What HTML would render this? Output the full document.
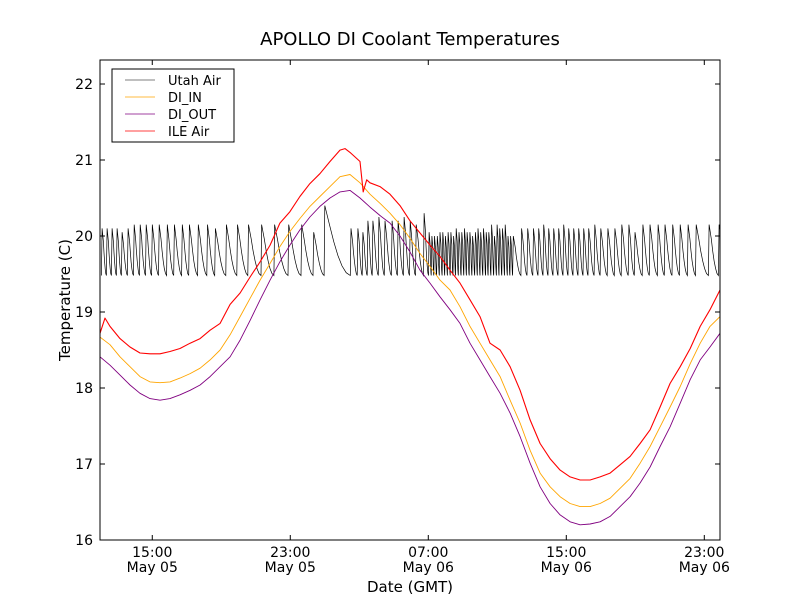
<!DOCTYPE html>
<html><head><meta charset="utf-8"><style>
body{margin:0;background:#fff;}
svg text{font-family:"DejaVu Sans","Liberation Sans",sans-serif;}
</style></head><body>
<svg id="chart" width="800" height="600" xmlns="http://www.w3.org/2000/svg">
<rect width="800" height="600" fill="#fff"/>
<text x="410" y="45" font-size="18" text-anchor="middle">APOLLO DI Coolant Temperatures</text>
<g id="series"></g>
<rect x="100" y="60" width="620" height="480" fill="none" stroke="#000" stroke-width="1"/>
<g id="axes"></g>
<text x="410" y="592" font-size="15" text-anchor="middle">Date (GMT)</text>
<text transform="translate(70,300) rotate(-90)" font-size="15" text-anchor="middle">Temperature (C)</text>
<g>
<rect x="112" y="69" width="122" height="73" fill="#fff" stroke="#000" stroke-width="1"/>
<g><line x1="125" y1="80" x2="155" y2="80" stroke="#000" stroke-width="0.6"/><text x="168" y="85" font-size="13">Utah Air</text></g>
<g><line x1="125" y1="97" x2="155" y2="97" stroke="orange" stroke-width="0.8"/><text x="168" y="102" font-size="13">DI_IN</text></g>
<g><line x1="125" y1="114" x2="155" y2="114" stroke="purple" stroke-width="0.8"/><text x="168" y="119" font-size="13">DI_OUT</text></g>
<g><line x1="125" y1="131" x2="155" y2="131" stroke="red" stroke-width="0.8"/><text x="168" y="136" font-size="13">ILE Air</text></g>
</g>
</svg>
<script>
// hours since May 05 00:00 GMT
const sampleHours=[11.97,12.55,13.13,13.71,14.29,14.87,15.45,16.03,16.61,17.19,17.77,18.35,18.93,19.51,20.09,20.67,21.25,21.83,22.40,22.98,23.56,24.14,24.72,25.30,25.88,26.46,27.04,27.62,28.20,28.78,29.36,29.94,30.52,31.10,31.68,32.26,32.84,33.42,34.00,34.58,35.16,35.74,36.32,36.90,37.48,38.06,38.64,39.22,39.80,40.38,40.96,41.54,42.12,42.70,43.28,43.86,44.44,45.02,45.60,46.18,46.76,47.33,47.91];
const diIn=[18.67,18.57,18.41,18.28,18.15,18.08,18.07,18.08,18.13,18.19,18.26,18.37,18.5,18.7,18.94,19.18,19.42,19.64,19.86,20.06,20.23,20.39,20.52,20.65,20.78,20.81,20.7,20.55,20.43,20.3,20.15,19.97,19.77,19.6,19.42,19.29,19.07,18.81,18.59,18.37,18.15,17.84,17.54,17.18,16.88,16.7,16.57,16.48,16.44,16.44,16.48,16.55,16.68,16.81,17.01,17.23,17.49,17.75,18.02,18.32,18.59,18.81,18.94];
const diOut=[18.41,18.3,18.17,18.04,17.93,17.86,17.84,17.86,17.91,17.97,18.04,18.15,18.28,18.41,18.63,18.89,19.16,19.42,19.66,19.88,20.08,20.25,20.39,20.5,20.58,20.6,20.5,20.38,20.27,20.17,20.0,19.79,19.55,19.38,19.2,19.03,18.85,18.59,18.37,18.15,17.93,17.67,17.36,17.01,16.7,16.48,16.33,16.24,16.2,16.21,16.24,16.31,16.44,16.57,16.75,16.96,17.23,17.49,17.8,18.11,18.37,18.54,18.72];
const ileHours=[11.97,12.26,12.55,13.13,13.71,14.29,14.87,15.45,16.03,16.61,17.19,17.77,18.35,18.93,19.51,20.09,20.67,21.25,21.83,22.40,22.98,23.56,24.14,24.72,25.30,25.88,26.17,26.46,27.04,27.23,27.43,27.62,28.20,28.78,29.36,29.94,30.52,31.10,31.68,32.26,32.84,33.42,34.00,34.58,35.16,35.74,36.32,36.90,37.48,38.06,38.64,39.22,39.80,40.38,40.96,41.54,42.12,42.70,43.28,43.86,44.44,45.02,45.60,46.18,46.76,47.33,47.91];
const ileAir=[18.72,18.92,18.81,18.65,18.54,18.46,18.45,18.45,18.48,18.52,18.59,18.65,18.76,18.85,19.1,19.25,19.46,19.66,19.88,20.17,20.32,20.52,20.69,20.82,20.98,21.13,21.15,21.1,20.98,20.58,20.74,20.7,20.65,20.55,20.4,20.2,20.04,19.88,19.73,19.55,19.38,19.16,18.94,18.59,18.5,18.28,17.97,17.58,17.27,17.07,16.92,16.83,16.79,16.79,16.83,16.88,16.99,17.1,17.27,17.45,17.75,18.06,18.28,18.52,18.81,19.03,19.29];
const utahPeakHours=[12.09,12.38,12.67,12.96,13.25,13.60,13.95,14.30,14.65,15.00,15.40,15.87,16.28,16.74,17.15,17.67,18.20,18.66,19.30,19.94,20.58,21.34,22.09,22.91,23.66,24.36,25.00,26.52,26.92,27.21,27.50,27.79,28.14,28.49,28.90,29.25,29.60,29.95,30.30,30.76,31.05,31.21,31.36,31.52,31.68,31.84,31.99,32.15,32.31,32.47,32.62,32.78,32.94,33.10,33.25,33.41,33.57,33.73,33.88,34.04,34.20,34.36,34.51,34.67,34.83,34.99,35.14,35.30,35.46,35.62,35.77,35.93,36.41,36.76,37.10,37.40,37.69,37.98,38.27,38.56,38.85,39.14,39.43,39.72,40.01,40.30,40.65,41.00,41.41,41.82,42.22,42.63,42.98,43.44,43.85,44.32,44.72,45.17,45.60,46.06,46.53,47.28,47.86];
const utahPeakVals=[20.1,20.1,20.1,20.1,20.05,20.1,20.15,20.15,20.15,20.15,20.15,20.15,20.15,20.15,20.15,20.15,20.15,20.1,20.15,20.15,20.15,20.15,20.15,20.15,20.15,20.05,20.4,20.1,20.1,20.05,20.2,20.2,20.25,20.2,20.2,20.2,20.25,20.2,20.15,20.3,20.05,20.0,20.0,20.0,20.05,20.05,20.0,20.05,20.05,20.0,20.1,20.05,20.05,20.1,20.05,20.05,20.0,20.05,20.1,20.05,20.1,20.05,20.05,20.15,20.0,20.15,20.1,20.1,20.15,20.0,20.0,20.0,20.1,20.1,20.1,20.1,20.15,20.1,20.1,20.1,20.15,20.1,20.1,20.1,20.1,20.1,20.15,20.1,20.1,20.1,20.15,20.15,20.05,20.15,20.15,20.15,20.15,20.15,20.15,20.15,20.15,20.15,20.15];
const utahTrough=19.48;
const yTicks=[16,17,18,19,20,21,22];
const xTickHours=[15,23,31,39,47];
const xTickLabels=["15:00","23:00","07:00","15:00","23:00"];
const xTickDates=["May 05","May 05","May 06","May 06","May 06"];

const X0=100,X1=720,Y0=540,Y1=60;
const xMin=11.97,xMax=47.91,yMin=16,yMax=22.316;
const xs=h=>X0+(h-xMin)/(xMax-xMin)*(X1-X0);
const ys=v=>Y0-(v-yMin)/(yMax-yMin)*(Y0-Y1);
const NS="http://www.w3.org/2000/svg";
const series=document.getElementById('series');
const axes=document.getElementById('axes');

const defs=document.createElementNS(NS,'defs');
defs.innerHTML='<clipPath id="clip"><rect x="100" y="60" width="620" height="480"/></clipPath>';
document.getElementById('chart').appendChild(defs);
series.setAttribute('clip-path','url(#clip)');

let d='';
for(let i=0;i<utahPeakHours.length;i++){
  const t=utahPeakHours[i],v=utahPeakVals[i];
  const tn=i+1<utahPeakHours.length?utahPeakHours[i+1]:t+0.6;
  const span=tn-t;
  d+=(i===0?'M':'L')+xs(t-0.04).toFixed(1)+','+ys(utahTrough).toFixed(1);
  d+='L'+xs(t).toFixed(1)+','+ys(v).toFixed(1);
  for(let k=1;k<=6;k++){
    const f=k/6;
    const val=utahTrough+(v-utahTrough)*Math.pow(1-f,1.8);
    d+='L'+xs(t+0.04+(span-0.08)*f).toFixed(1)+','+ys(val).toFixed(1);
  }
}
const ua=document.createElementNS(NS,'path');
ua.setAttribute('d',d);ua.setAttribute('fill','none');ua.setAttribute('stroke','#000');ua.setAttribute('stroke-width','0.7');


series.appendChild(ua);

function line(hours,vals,color,name,w){
  const p=document.createElementNS(NS,'path');
  p.setAttribute('d',vals.map((v,i)=>(i?'L':'M')+xs(hours[i]).toFixed(1)+','+ys(v).toFixed(1)).join(''));
  p.setAttribute('fill','none');p.setAttribute('stroke',color);p.setAttribute('stroke-width',w);p.setAttribute('stroke-linejoin','round');
  
  
  series.appendChild(p);
}
line(sampleHours,diIn,'orange','di-in-line','0.9');
line(sampleHours,diOut,'purple','di-out-line','0.9');
line(ileHours,ileAir,'red','ile-air-line','1.1');

yTicks.forEach(v=>{
  const y=ys(v);
  const g=document.createElementNS(NS,'g');
  
  
  g.innerHTML=`<line x1="100" y1="${y}" x2="105" y2="${y}" stroke="#000"/><line x1="715" y1="${y}" x2="720" y2="${y}" stroke="#000"/><text x="93" y="${y+5}" font-size="14" text-anchor="end">${v}</text>`;
  axes.appendChild(g);
});
xTickHours.forEach((h,i)=>{
  const x=xs(h);
  const g=document.createElementNS(NS,'g');
  
  
  g.innerHTML=`<line x1="${x}" y1="540" x2="${x}" y2="535" stroke="#000"/><line x1="${x}" y1="60" x2="${x}" y2="65" stroke="#000"/><text x="${x}" y="557" font-size="14" text-anchor="middle">${xTickLabels[i]}</text><text x="${x}" y="572" font-size="14" text-anchor="middle">${xTickDates[i]}</text>`;
  axes.appendChild(g);
});
</script>
</body></html>
